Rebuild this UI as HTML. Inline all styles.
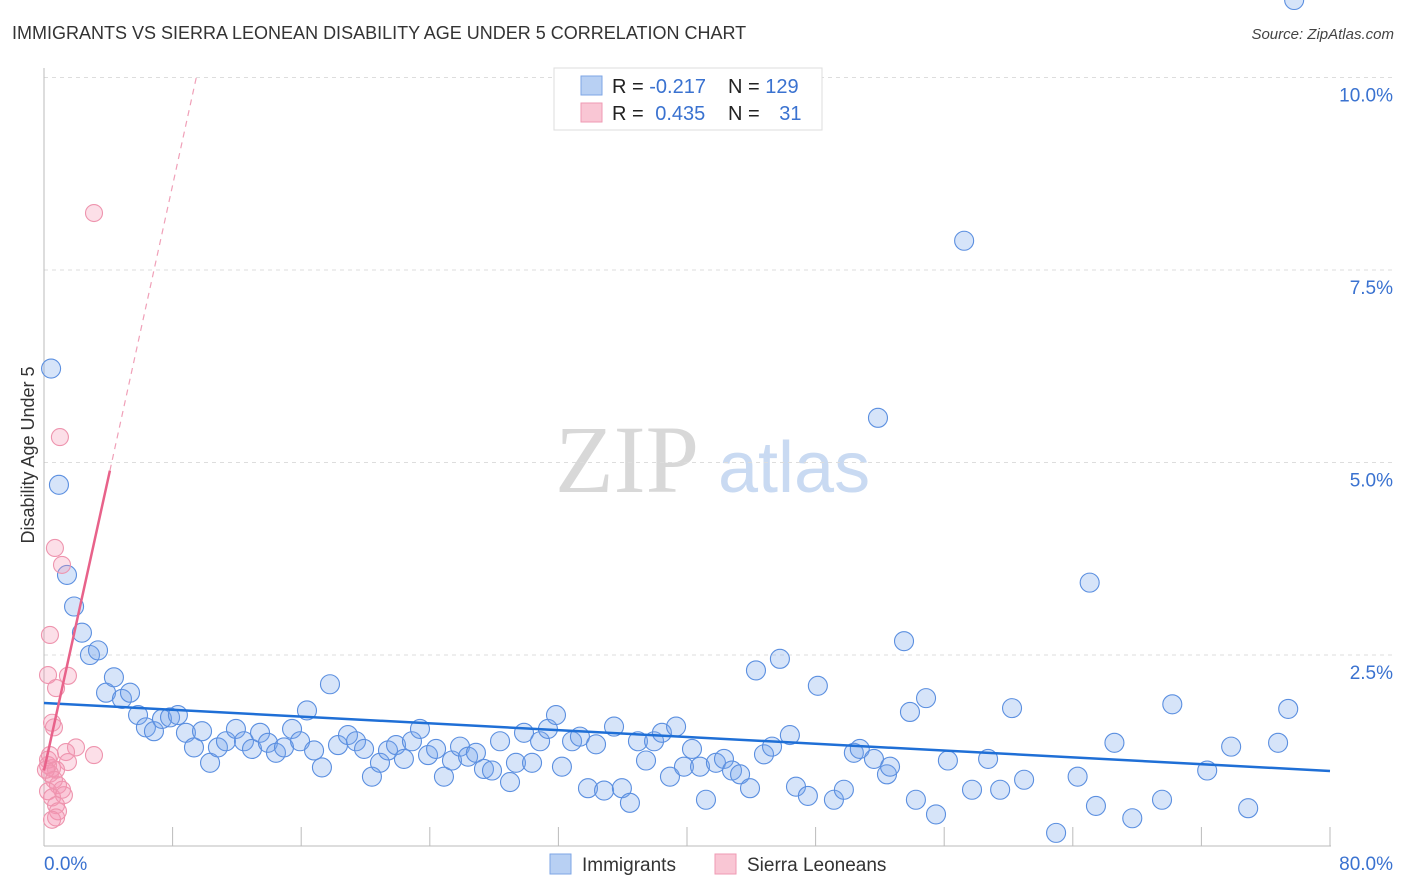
<!DOCTYPE html>
<html><head><meta charset="utf-8"><style>
body{margin:0;background:#fff;font-family:"Liberation Sans",sans-serif;}
svg{display:block}
</style></head><body>
<svg id="chart" width="1406" height="892" viewBox="0 0 1406 892" xmlns="http://www.w3.org/2000/svg">
<text x="12" y="39" font-size="18" fill="#333">IMMIGRANTS VS SIERRA LEONEAN DISABILITY AGE UNDER 5 CORRELATION CHART</text>
<text x="1394" y="39" font-size="15" fill="#444" font-style="italic" text-anchor="end">Source: ZipAtlas.com</text>
<g>
<text x="555" y="492" font-size="96" fill="#d8d8d8" font-family="Liberation Serif,serif">ZIP</text>
<text x="718" y="492" font-size="72" fill="#c9daf2">atlas</text>
</g>
<g id="grid"></g>
<g id="axes"></g>
<text transform="translate(34,455) rotate(-90)" font-size="18" fill="#333" text-anchor="middle">Disability Age Under 5</text>
<g id="pts"></g>
<g id="trend"></g>
<g>
<rect x="554" y="68" width="268" height="62" fill="#fff" stroke="#ddd"/>
<rect x="581" y="76" width="21" height="19" fill="#b8d0f3" stroke="#7ea6e6"/>
<rect x="581" y="103" width="21" height="19" fill="#f9c6d4" stroke="#ef9ab3"/>
<text x="612" y="93" font-size="20" fill="#222">R = <tspan fill="#3a72d0">-0.217</tspan></text>
<text x="728" y="93" font-size="20" fill="#222">N = <tspan fill="#3a72d0">129</tspan></text>
<text x="612" y="120" font-size="20" fill="#222">R = <tspan fill="#3a72d0" dx="6">0.435</tspan></text>
<text x="728" y="120" font-size="20" fill="#222">N = <tspan fill="#3a72d0" dx="14">31</tspan></text>
</g>
<g>
<rect x="550" y="854" width="21" height="20" fill="#b8d0f3" stroke="#7ea6e6"/>
<text x="582" y="871" font-size="19" fill="#333">Immigrants</text>
<rect x="715" y="854" width="21" height="20" fill="#f9c6d4" stroke="#ef9ab3"/>
<text x="747" y="871" font-size="19" fill="#333">Sierra Leoneans</text>
</g>
</svg>
<script>
const yTicks=[2.5,5,7.5,10];
const yTickLabels=["2.5%","5.0%","7.5%","10.0%"];
const xTicks=[8,16,24,32,40,48,56,64,72,80];
const xEndLabels=["0.0%","80.0%"];
const immX=[0.44,0.93,1.43,1.87,2.36,2.86,3.36,3.86,4.35,4.85,5.35,5.85,6.34,6.84,7.34,7.84,8.33,8.83,9.33,9.83,10.33,10.82,11.32,11.94,12.44,12.94,13.44,13.93,14.43,14.93,15.43,15.93,16.36,16.80,17.29,17.79,18.29,18.91,19.41,19.91,20.40,20.90,21.40,21.90,22.39,22.89,23.39,23.89,24.39,24.88,25.38,25.88,26.38,26.87,27.37,27.87,28.37,28.99,29.36,29.86,30.36,30.86,31.35,31.85,32.22,32.85,33.34,33.84,34.34,34.84,35.46,35.95,36.45,36.95,37.45,37.95,38.44,38.94,39.32,39.81,40.31,40.81,41.18,41.80,42.30,42.80,43.30,43.92,44.29,44.79,45.29,45.78,46.40,46.78,47.52,48.14,49.14,49.76,50.38,50.75,51.63,51.88,52.44,52.63,53.50,53.87,54.24,54.87,55.49,56.23,57.24,57.73,58.73,59.48,60.22,60.97,62.96,64.30,65.05,65.44,66.59,67.70,69.55,70.19,72.36,73.85,74.91,76.77,77.40,77.77];
const immY=[6.22,4.71,3.54,3.13,2.79,2.50,2.56,2.01,2.21,1.93,2.01,1.72,1.56,1.51,1.67,1.69,1.72,1.49,1.30,1.51,1.10,1.30,1.38,1.54,1.38,1.28,1.49,1.36,1.23,1.30,1.54,1.38,1.78,1.26,1.04,2.12,1.33,1.46,1.38,1.28,0.92,1.10,1.26,1.33,1.15,1.38,1.54,1.20,1.28,0.92,1.13,1.31,1.18,1.23,1.02,1.00,1.38,0.85,1.10,1.49,1.10,1.38,1.54,1.72,1.05,1.38,1.44,0.77,1.34,0.74,1.57,0.77,0.58,1.38,1.13,1.38,1.49,0.92,1.57,1.05,1.28,1.05,0.62,1.10,1.15,1.00,0.95,0.77,2.30,1.21,1.31,2.45,1.46,0.79,0.67,2.10,0.62,0.75,1.23,1.28,1.15,5.58,0.95,1.05,2.68,1.76,0.62,1.94,0.43,1.13,7.88,0.75,1.15,0.75,1.81,0.88,0.19,0.92,3.44,0.54,1.36,0.38,0.62,1.86,1.00,1.31,0.51,1.36,1.80];
const sieX=[3.11,0.99,0.68,1.12,0.37,0.25,1.49,0.75,0.50,0.62,1.99,1.37,3.11,1.49,0.25,0.50,0.75,0.37,0.62,0.87,0.25,1.12,0.50,1.24,0.75,0.87,0.75,0.50,0.25,0.12,0.37];
const sieY=[8.24,5.33,3.89,3.67,2.76,2.24,2.23,2.07,1.62,1.56,1.30,1.24,1.20,1.11,1.07,1.03,1.01,0.96,0.88,0.81,0.73,0.75,0.65,0.68,0.55,0.47,0.39,0.36,1.14,1.01,1.20];
const immTrend=[1.877,0.994];
const sieTrend=[1.0,0.95];
const NS="http://www.w3.org/2000/svg";
const X0=44,X1=1330,Y0=847.5,YS=77;
function xs(v){return X0+v/80*(X1-X0);}
function ys(v){return Y0-v*YS;}
function mk(tag,attrs,parent){const e=document.createElementNS(NS,tag);for(const k in attrs)e.setAttribute(k,attrs[k]);parent.appendChild(e);return e;}
const grid=document.getElementById('grid'),axes=document.getElementById('axes'),pts=document.getElementById('pts'),trend=document.getElementById('trend');
yTicks.forEach((t,i)=>{
 const l=mk('line',{x1:X0,x2:1394,y1:ys(t),y2:ys(t),stroke:'#ddd','stroke-dasharray':'4,4'},grid);
 
 
 const tx=mk('text',{x:1393,y:ys(t)+24,'font-size':19,fill:'#3a72d0','text-anchor':'end'},axes);
 tx.textContent=yTickLabels[i];
 
 
});
let a=mk('line',{x1:X0,x2:X0,y1:68,y2:846,stroke:'#bbb'},axes);


a=mk('line',{x1:X0,x2:X1+1,y1:846,y2:846,stroke:'#bbb'},axes);


xTicks.forEach(t=>{
 const l=mk('line',{x1:xs(t),x2:xs(t),y1:827,y2:846,stroke:'#bbb'},axes);
 
 
});
let t0=mk('text',{x:X0,y:870,'font-size':19,fill:'#3a72d0'},axes);t0.textContent=xEndLabels[0];


let t1=mk('text',{x:1393,y:870,'font-size':19,fill:'#3a72d0','text-anchor':'end'},axes);t1.textContent=xEndLabels[1];


immX.forEach((v,i)=>{
 const c=mk('circle',{cx:xs(v),cy:ys(immY[i]),r:9.5,fill:'rgba(120,165,235,0.3)',stroke:'#5b8fe0','stroke-width':1.1},pts);
 
 
});
sieX.forEach((v,i)=>{
 const c=mk('circle',{cx:xs(v),cy:ys(sieY[i]),r:8.5,fill:'rgba(245,150,180,0.3)',stroke:'#ee94ae','stroke-width':1.1},pts);
 
 
});
let tl=mk('line',{x1:xs(0),y1:ys(immTrend[0]),x2:xs(80),y2:ys(immTrend[1]),stroke:'#1f6fd6','stroke-width':2.5},trend);


const sx1=4.1,sx2=(10-sieTrend[0])/sieTrend[1];
tl=mk('line',{x1:xs(0),y1:ys(sieTrend[0]),x2:xs(sx1),y2:ys(sieTrend[0]+sieTrend[1]*sx1),stroke:'#e8628a','stroke-width':2.5},trend);


tl=mk('line',{x1:xs(sx1),y1:ys(sieTrend[0]+sieTrend[1]*sx1),x2:xs(sx2),y2:ys(10),stroke:'#f0a0b8','stroke-width':1.2,'stroke-dasharray':'6,5'},trend);


</script>
</body></html>
